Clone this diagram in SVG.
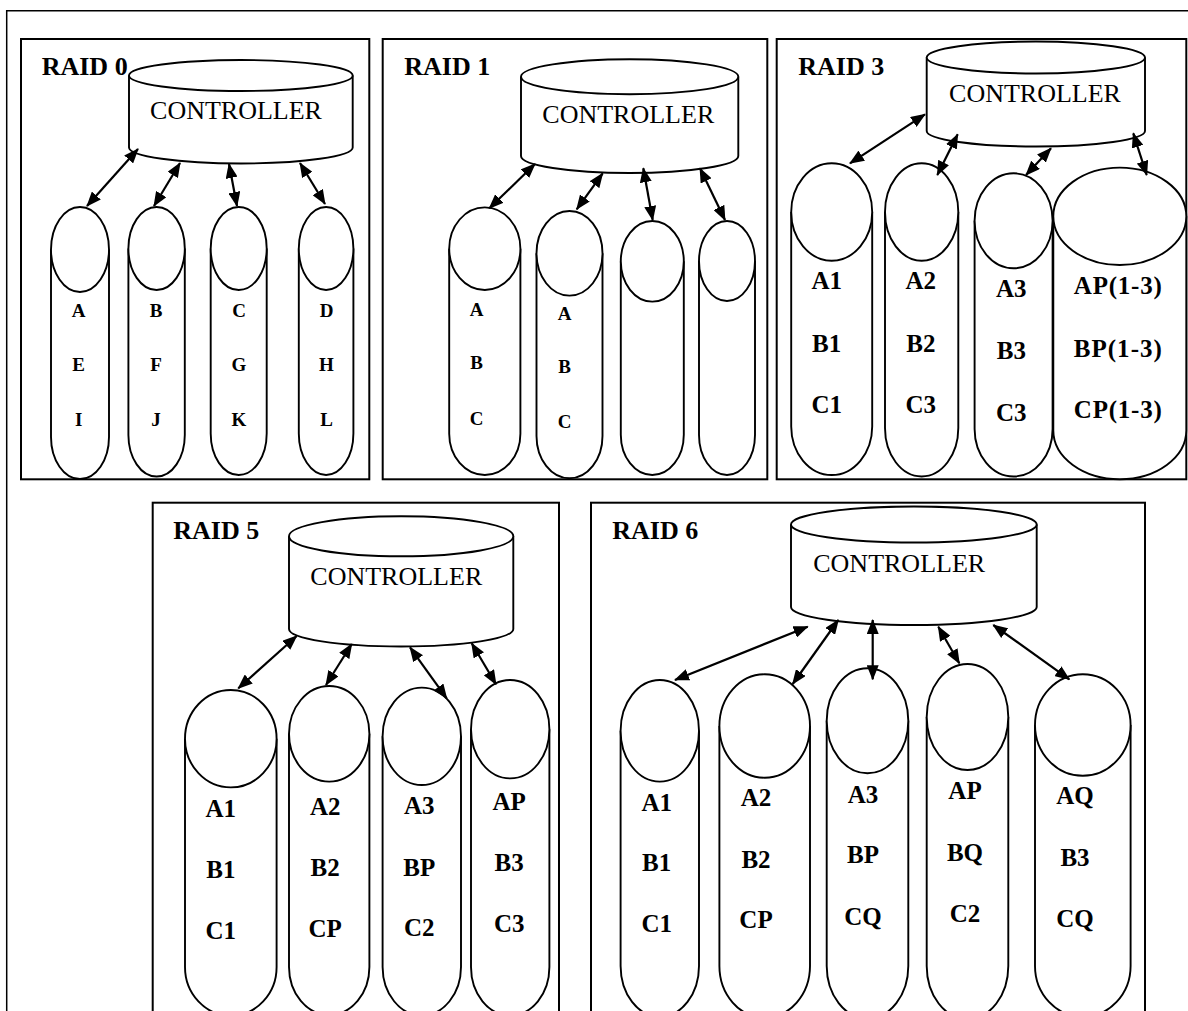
<svg xmlns="http://www.w3.org/2000/svg" width="1188" height="1011" viewBox="0 0 1188 1011">
<style>
.frame{fill:none;stroke:#000;stroke-width:1.5}
.panel{fill:#fff;stroke:#000;stroke-width:2}
.shape{fill:#fff;stroke:#000;stroke-width:1.9}
.title{font-family:"Liberation Serif","Times New Roman",serif;font-weight:bold;font-size:26px;fill:#000}
.ctl{font-family:"Liberation Serif","Times New Roman",serif;font-size:26px;text-anchor:middle;fill:#000}
.ls{font-family:"Liberation Serif","Times New Roman",serif;font-weight:bold;font-size:19px;text-anchor:middle;fill:#000}
.lb{font-family:"Liberation Serif","Times New Roman",serif;font-weight:bold;font-size:25px;text-anchor:middle;fill:#000}
.conn line{stroke:#000;stroke-width:2.2;marker-start:url(#ah);marker-end:url(#ah)}
</style>
<defs>
<marker id="ah" markerUnits="userSpaceOnUse" markerWidth="15" markerHeight="12" refX="14" refY="6" orient="auto-start-reverse" viewBox="0 0 15 12">
<path d="M0,0 L15,6 L0,12 z" fill="#000"/>
</marker>
</defs>
<rect width="1188" height="1011" fill="#fff"/>
<path class="frame" d="M6.7,1011 V10.7 H1188"/>

<!-- RAID 0 -->
<g id="raid0">
<rect class="panel" x="21" y="39" width="348.3" height="440.3"/>
<text class="title" x="41.7" y="75">RAID 0</text>
</g>
<g id="raid0-controller">
<path class="shape" d="M129,75.5 V147.5 A111.85,16 0 0 0 352.7,147.5 V75.5"/>
<ellipse class="shape" cx="240.85" cy="75.5" rx="111.85" ry="15.5"/>
<text class="ctl" x="236" y="119.3">CONTROLLER</text>
</g>
<g id="raid0-disk1">
<path class="shape" d="M51,249.5 V437 A29,42 0 0 0 109,437 V249.5"/>
<ellipse class="shape" cx="80" cy="249.5" rx="29" ry="42.5"/>
<text class="ls" x="78.7" y="316.5">A</text><text class="ls" x="78.7" y="371">E</text><text class="ls" x="78.7" y="426">I</text>
</g>
<g id="raid0-disk2">
<path class="shape" d="M128.4,248.5 V435 A28.2,41.5 0 0 0 184.8,435 V248.5"/>
<ellipse class="shape" cx="156.6" cy="248.5" rx="28.2" ry="41.5"/>
<text class="ls" x="156" y="316.5">B</text><text class="ls" x="156" y="371">F</text><text class="ls" x="156" y="426">J</text>
</g>
<g id="raid0-disk3">
<path class="shape" d="M210.7,248.5 V433.5 A28,41.5 0 0 0 266.7,433.5 V248.5"/>
<ellipse class="shape" cx="238.7" cy="248.5" rx="28" ry="41.5"/>
<text class="ls" x="239" y="316.5">C</text><text class="ls" x="239" y="371">G</text><text class="ls" x="239" y="426">K</text>
</g>
<g id="raid0-disk4">
<path class="shape" d="M298.8,248.5 V433.5 A27.3,41.5 0 0 0 353.4,433.5 V248.5"/>
<ellipse class="shape" cx="326.1" cy="248.5" rx="27.3" ry="41.5"/>
<text class="ls" x="326.5" y="316.5">D</text><text class="ls" x="326.5" y="371">H</text><text class="ls" x="326.5" y="426">L</text>
</g>

<!-- RAID 1 -->
<g id="raid1">
<rect class="panel" x="382.7" y="39" width="384.6" height="440.3"/>
<text class="title" x="404.3" y="75">RAID 1</text>
</g>
<g id="raid1-controller">
<path class="shape" d="M521,76.8 V156 A108.65,17 0 0 0 738.3,156 V76.8"/>
<ellipse class="shape" cx="629.65" cy="76.8" rx="108.65" ry="17.5"/>
<text class="ctl" x="628.3" y="122.7">CONTROLLER</text>
</g>
<g id="raid1-disk1">
<path class="shape" d="M449.2,248.7 V433.7 A35.6,41.3 0 0 0 520.4,433.7 V248.7"/>
<ellipse class="shape" cx="484.8" cy="248.7" rx="35.6" ry="41.3"/>
<text class="ls" x="476.5" y="316">A</text><text class="ls" x="476.5" y="369.3">B</text><text class="ls" x="476.5" y="425">C</text>
</g>
<g id="raid1-disk2">
<path class="shape" d="M536.5,253.3 V436 A33,42.3 0 0 0 602.5,436 V253.3"/>
<ellipse class="shape" cx="569.5" cy="253.3" rx="33" ry="42.3"/>
<text class="ls" x="564.7" y="320">A</text><text class="ls" x="564.7" y="373.3">B</text><text class="ls" x="564.7" y="428.3">C</text>
</g>
<g id="raid1-disk3">
<path class="shape" d="M620.8,261.3 V434.7 A31.5,40.3 0 0 0 683.8,434.7 V261.3"/>
<ellipse class="shape" cx="652.3" cy="261.3" rx="31.5" ry="40.3"/>
</g>
<g id="raid1-disk4">
<path class="shape" d="M699,261 V435 A28,40 0 0 0 755,435 V261"/>
<ellipse class="shape" cx="727" cy="261" rx="28" ry="40"/>
</g>

<!-- RAID 3 -->
<g id="raid3">
<rect class="panel" x="776.7" y="39" width="409.6" height="440.3"/>
<text class="title" x="798.3" y="75">RAID 3</text>
</g>
<g id="raid3-controller">
<path class="shape" d="M926.7,57.5 V131 A109.15,15.5 0 0 0 1145,131 V57.5"/>
<ellipse class="shape" cx="1035.85" cy="57.5" rx="109.15" ry="16"/>
<text class="ctl" x="1035" y="102.3">CONTROLLER</text>
</g>
<g id="raid3-disk1">
<path class="shape" d="M791.2,212 V426.5 A40.5,48.5 0 0 0 872.2,426.5 V212"/>
<ellipse class="shape" cx="831.7" cy="212" rx="40.5" ry="48.7"/>
<text class="lb" x="826.7" y="289.3">A1</text><text class="lb" x="826.7" y="351.7">B1</text><text class="lb" x="826.7" y="413.3">C1</text>
</g>
<g id="raid3-disk2">
<path class="shape" d="M885,212 V428 A36.65,48.5 0 0 0 958.3,428 V212"/>
<ellipse class="shape" cx="921.65" cy="212" rx="36.65" ry="48.7"/>
<text class="lb" x="920.8" y="289.3">A2</text><text class="lb" x="920.8" y="351.7">B2</text><text class="lb" x="920.8" y="413.3">C3</text>
</g>
<g id="raid3-disk3">
<path class="shape" d="M974.6,220.8 V429 A39,47.5 0 0 0 1052.6,429 V220.8"/>
<ellipse class="shape" cx="1013.6" cy="220.8" rx="39" ry="47.5"/>
<text class="lb" x="1011.3" y="296.7">A3</text><text class="lb" x="1011.3" y="359.3">B3</text><text class="lb" x="1011.3" y="420.7">C3</text>
</g>
<g id="raid3-disk4">
<path class="shape" d="M1053.3,216.3 V430.6 A66.5,48.7 0 0 0 1186.3,430.6 V216.3"/>
<ellipse class="shape" cx="1119.8" cy="216.3" rx="66.5" ry="48.7"/>
<text class="lb" x="1117.8" y="294" textLength="88">AP(1-3)</text><text class="lb" x="1117.8" y="356.7" textLength="88">BP(1-3)</text><text class="lb" x="1117.8" y="418.3" textLength="88">CP(1-3)</text>
</g>

<!-- RAID 5 -->
<g id="raid5">
<rect class="panel" x="152.7" y="502.7" width="406.3" height="530"/>
<text class="title" x="173.3" y="539.3">RAID 5</text>
</g>
<g id="raid5-controller">
<path class="shape" d="M289,536.3 V629 A112.15,17.5 0 0 0 513.3,629 V536.3"/>
<ellipse class="shape" cx="401.15" cy="536.3" rx="112.15" ry="20"/>
<text class="ctl" x="396.3" y="585">CONTROLLER</text>
</g>
<g id="raid5-disk1">
<path class="shape" d="M185,738.7 V967 A45.8,48.7 0 0 0 276.6,967 V738.7"/>
<ellipse class="shape" cx="230.8" cy="738.7" rx="45.8" ry="48.7"/>
<text class="lb" x="220.8" y="817.3">A1</text><text class="lb" x="220.8" y="878.3">B1</text><text class="lb" x="220.8" y="939.3">C1</text>
</g>
<g id="raid5-disk2">
<path class="shape" d="M289,733.8 V967 A40.2,48 0 0 0 369.4,967 V733.8"/>
<ellipse class="shape" cx="329.2" cy="733.8" rx="40.2" ry="47.8"/>
<text class="lb" x="325.2" y="815">A2</text><text class="lb" x="325.2" y="876">B2</text><text class="lb" x="325.2" y="936.7">CP</text>
</g>
<g id="raid5-disk3">
<path class="shape" d="M382.6,736.3 V967 A39.2,48.5 0 0 0 461,967 V736.3"/>
<ellipse class="shape" cx="421.8" cy="736.3" rx="39.2" ry="48.7"/>
<text class="lb" x="419.2" y="814.3">A3</text><text class="lb" x="419.2" y="876">BP</text><text class="lb" x="419.2" y="936">C2</text>
</g>
<g id="raid5-disk4">
<path class="shape" d="M471,729.2 V967 A39.2,48.5 0 0 0 549.4,967 V729.2"/>
<ellipse class="shape" cx="510.2" cy="729.2" rx="39.2" ry="49.2"/>
<text class="lb" x="509.2" y="810">AP</text><text class="lb" x="509.2" y="871">B3</text><text class="lb" x="509.2" y="932.3">C3</text>
</g>

<!-- RAID 6 -->
<g id="raid6">
<rect class="panel" x="591" y="502.7" width="554" height="530"/>
<text class="title" x="612.3" y="539.3">RAID 6</text>
</g>
<g id="raid6-controller">
<path class="shape" d="M791,524.5 V607 A122.85,18 0 0 0 1036.7,607 V524.5"/>
<ellipse class="shape" cx="913.85" cy="524.5" rx="122.85" ry="18"/>
<text class="ctl" x="899.2" y="571.7">CONTROLLER</text>
</g>
<g id="raid6-disk1">
<path class="shape" d="M620.6,730.8 V966 A39.2,50.8 0 0 0 699,966 V730.8"/>
<ellipse class="shape" cx="659.8" cy="730.8" rx="39.2" ry="50.8"/>
<text class="lb" x="656.7" y="810.7">A1</text><text class="lb" x="656.7" y="870.7">B1</text><text class="lb" x="656.7" y="932.3">C1</text>
</g>
<g id="raid6-disk2">
<path class="shape" d="M719.4,726 V966 A45.3,51.7 0 0 0 810,966 V726"/>
<ellipse class="shape" cx="764.7" cy="726" rx="45.3" ry="51.7"/>
<text class="lb" x="756" y="806">A2</text><text class="lb" x="756" y="867.7">B2</text><text class="lb" x="756" y="928.3">CP</text>
</g>
<g id="raid6-disk3">
<path class="shape" d="M826.7,720.8 V966 A40.8,52.5 0 0 0 908.3,966 V720.8"/>
<ellipse class="shape" cx="867.5" cy="720.8" rx="40.8" ry="52.5"/>
<text class="lb" x="863" y="802.7">A3</text><text class="lb" x="863" y="863.3">BP</text><text class="lb" x="863" y="925">CQ</text>
</g>
<g id="raid6-disk4">
<path class="shape" d="M926.7,717 V966 A40.8,53 0 0 0 1008.3,966 V717"/>
<ellipse class="shape" cx="967.5" cy="717" rx="40.8" ry="53"/>
<text class="lb" x="965" y="799.3">AP</text><text class="lb" x="965" y="860.7">BQ</text><text class="lb" x="965" y="921.7">C2</text>
</g>
<g id="raid6-disk5">
<path class="shape" d="M1035,725 V966 A47.8,50.8 0 0 0 1130.6,966 V725"/>
<ellipse class="shape" cx="1082.8" cy="725" rx="47.8" ry="50.8"/>
<text class="lb" x="1075" y="804">AQ</text><text class="lb" x="1075" y="866">B3</text><text class="lb" x="1075" y="926.7">CQ</text>
</g>

<g id="connectors" class="conn">
<line x1="138" y1="149" x2="87" y2="206"/>
<line x1="180" y1="163" x2="154" y2="206"/>
<line x1="229" y1="164" x2="237" y2="206"/>
<line x1="300" y1="163" x2="325" y2="204"/>
<line x1="535" y1="164" x2="489.3" y2="208.3"/>
<line x1="602.7" y1="173.3" x2="576.7" y2="209.3"/>
<line x1="643.3" y1="168.3" x2="652.7" y2="220"/>
<line x1="700" y1="168.3" x2="725" y2="220"/>
<line x1="925" y1="114.3" x2="850" y2="163.3"/>
<line x1="957.7" y1="134.3" x2="937.3" y2="175"/>
<line x1="1051" y1="148.3" x2="1026" y2="175"/>
<line x1="1133.3" y1="133.3" x2="1146.7" y2="175"/>
<line x1="296.7" y1="636" x2="238.3" y2="688.3"/>
<line x1="351.7" y1="644" x2="326" y2="685"/>
<line x1="410" y1="647.3" x2="446.7" y2="698.3"/>
<line x1="471.7" y1="643.3" x2="496" y2="684.3"/>
<line x1="807.7" y1="626.7" x2="675" y2="680"/>
<line x1="838.3" y1="620" x2="792.7" y2="684"/>
<line x1="872.7" y1="620" x2="872.7" y2="679.3"/>
<line x1="938.3" y1="626.7" x2="959.3" y2="663.3"/>
<line x1="993.3" y1="625" x2="1069.3" y2="679.3"/>
</g>
</svg>
